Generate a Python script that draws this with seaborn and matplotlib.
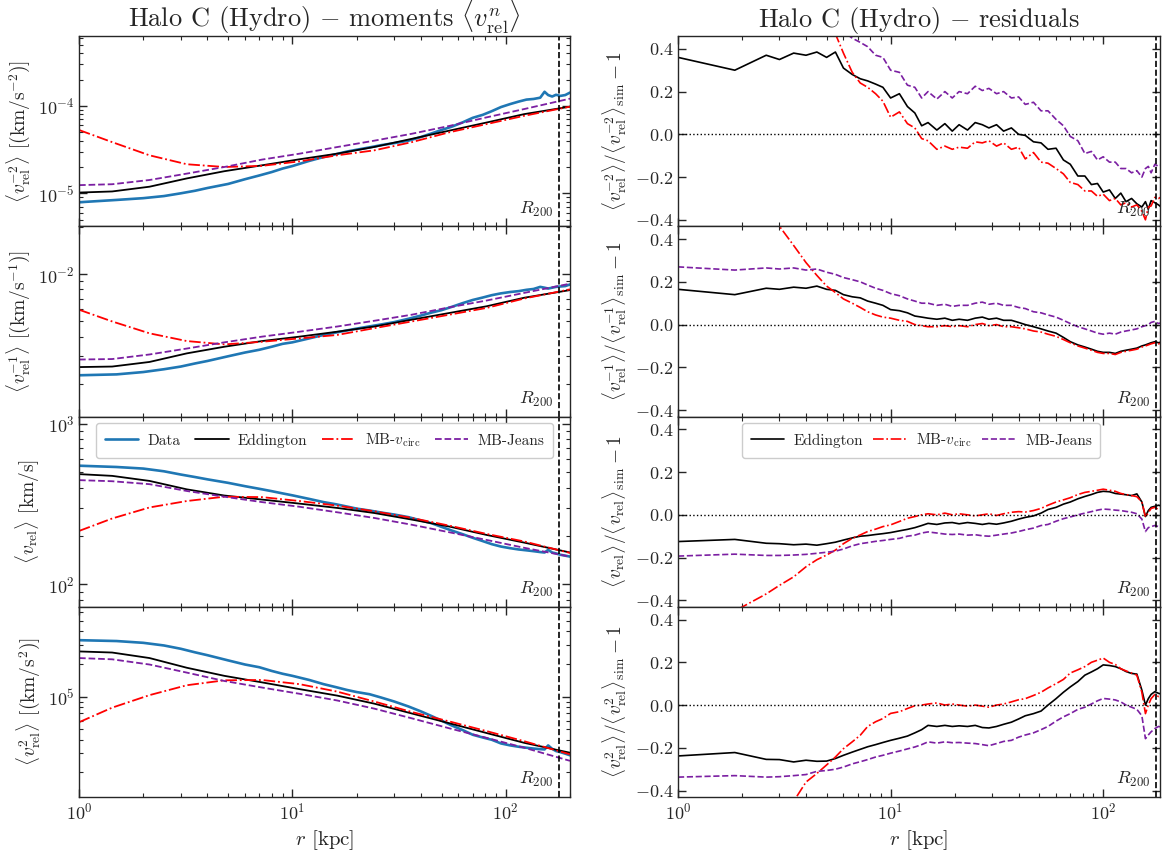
import matplotlib
matplotlib.use("Agg")
import matplotlib.pyplot as plt
import seaborn as sns
from matplotlib.ticker import LogLocator, NullFormatter, MultipleLocator

# ---------------- data ----------------
R200 = 177.0

# smooth model curves (left column)
r_mod = [1, 1.43, 2.14, 3.2, 4.8, 7.2, 10.8, 16.2, 24.2, 36.3, 54.4, 81.5, 122, 200]

edd_m2 = [1.02e-5, 1.05e-5, 1.19e-5, 1.48e-5, 1.79e-5, 2.09e-5, 2.45e-5, 2.84e-5, 3.39e-5, 4.2e-5, 5.21e-5, 6.46e-5, 8.05e-5, 9.8e-5]
vc_m2 = [5.3e-5, 3.85e-5, 2.72e-5, 2.15e-5, 2.0e-5, 2.06e-5, 2.32e-5, 2.72e-5, 3.1e-5, 3.85e-5, 4.99e-5, 6.2e-5, 7.7e-5, 9.8e-5]
jeans_m2 = [1.24e-5, 1.27e-5, 1.42e-5, 1.68e-5, 2.0e-5, 2.43e-5, 2.84e-5, 3.38e-5, 4.0e-5, 4.8e-5, 5.9e-5, 7.4e-5, 9.2e-5, 1.21e-4]

edd_m1 = [2.56e-3, 2.58e-3, 2.76e-3, 3.13e-3, 3.45e-3, 3.75e-3, 4.0e-3, 4.3e-3, 4.64e-3, 5.13e-3, 5.66e-3, 6.25e-3, 7.08e-3, 7.92e-3]
vc_m1 = [5.94e-3, 5.0e-3, 4.2e-3, 3.75e-3, 3.57e-3, 3.71e-3, 3.9e-3, 4.1e-3, 4.53e-3, 5.0e-3, 5.52e-3, 6.1e-3, 7.0e-3, 8.0e-3]
jeans_m1 = [2.86e-3, 2.88e-3, 3.08e-3, 3.36e-3, 3.68e-3, 4.0e-3, 4.3e-3, 4.64e-3, 5.05e-3, 5.52e-3, 6.15e-3, 6.8e-3, 7.6e-3, 8.7e-3]

edd_1 = [485, 473, 440, 390, 357, 337, 318, 299, 278, 253, 229, 203, 182, 158]
vc_1 = [215, 257, 301, 330, 351, 349, 330, 309, 285, 259, 232, 206, 185, 157]
jeans_1 = [445, 438, 420, 381, 351, 325, 304, 281, 259, 235, 211, 189, 169, 149]

edd_2 = [2.6e5, 2.54e5, 2.26e5, 1.84e5, 1.55e5, 1.35e5, 1.17e5, 1.02e5, 8.6e4, 6.98e4, 5.68e4, 4.61e4, 3.75e4, 3.04e4]
vc_2 = [5.8e4, 7.9e4, 1.03e5, 1.27e5, 1.41e5, 1.42e5, 1.3e5, 1.11e5, 9.0e4, 7.2e4, 5.9e4, 4.8e4, 3.88e4, 2.94e4]
jeans_2 = [2.26e5, 2.2e5, 1.97e5, 1.66e5, 1.39e5, 1.21e5, 1.06e5, 9.2e4, 7.74e4, 6.3e4, 5.1e4, 4.16e4, 3.38e4, 2.56e4]

# simulation data (blue)
r_data = [1, 1.5, 2, 2.5, 3, 3.5, 4, 5, 6, 7, 8, 9, 10, 12, 14, 16, 18, 20, 23, 26,
          30, 35, 40, 45, 50, 56, 63, 70, 78, 86, 95, 105, 115, 125, 135, 145, 152, 158, 165, 172,
          180, 190, 200]
data_m2 = [7.9e-6, 8.4e-6, 8.8e-6, 9.3e-6, 1.0e-5, 1.07e-5, 1.15e-5, 1.28e-5, 1.45e-5, 1.6e-5,
           1.75e-5, 1.92e-5, 2.05e-5, 2.35e-5, 2.6e-5, 2.8e-5, 3.0e-5, 3.15e-5, 3.35e-5, 3.55e-5,
           3.75e-5, 4.0e-5, 4.4e-5, 4.85e-5, 5.3e-5, 5.8e-5, 6.5e-5, 7.3e-5, 7.9e-5, 8.7e-5,
           9.7e-5, 1.05e-4, 1.12e-4, 1.18e-4, 1.2e-4, 1.24e-4, 1.45e-4, 1.33e-4, 1.28e-4, 1.34e-4,
           1.3e-4, 1.33e-4, 1.42e-4]
data_m1 = [2.27e-3, 2.3e-3, 2.38e-3, 2.48e-3, 2.58e-3, 2.7e-3, 2.8e-3, 3.0e-3, 3.17e-3, 3.3e-3,
           3.45e-3, 3.6e-3, 3.68e-3, 3.9e-3, 4.1e-3, 4.25e-3, 4.38e-3, 4.5e-3, 4.65e-3, 4.78e-3,
           4.95e-3, 5.2e-3, 5.45e-3, 5.7e-3, 5.9e-3, 6.2e-3, 6.55e-3, 6.85e-3, 7.1e-3, 7.35e-3,
           7.55e-3, 7.7e-3, 7.8e-3, 7.95e-3, 8.05e-3, 8.3e-3, 8.2e-3, 8.1e-3, 8.2e-3, 8.3e-3,
           8.35e-3, 8.4e-3, 8.6e-3]
data_1 = [547, 537, 525, 505, 482, 465, 450, 428, 408, 393,
          380, 368, 358, 340, 325, 315, 305, 296, 288, 280,
          272, 262, 250, 240, 228, 216, 205, 195, 186, 178,
          172, 168, 165, 163, 161, 159, 158, 164, 158, 156,
          153, 151, 149]
data_2 = [3.3e5, 3.24e5, 3.12e5, 2.95e5, 2.75e5, 2.55e5, 2.4e5, 2.15e5, 1.97e5, 1.86e5,
          1.72e5, 1.62e5, 1.55e5, 1.42e5, 1.3e5, 1.22e5, 1.15e5, 1.1e5, 1.05e5, 9.8e4,
          9.0e4, 8.1e4, 7.3e4, 6.6e4, 6.0e4, 5.4e4, 4.9e4, 4.45e4, 4.2e4, 4.0e4,
          3.7e4, 3.55e4, 3.45e4, 3.38e4, 3.32e4, 3.28e4, 3.26e4, 3.55e4, 3.3e4, 3.15e4,
          3.08e4, 2.98e4, 2.88e4]

# residuals (right column)
r_res = [1.0, 1.85, 2.6, 3.0, 3.5, 4.0, 4.5, 5.0, 5.5, 6.0,
         6.6, 7.2, 7.8, 8.5, 9.2, 10, 11, 12, 13, 14,
         15, 16.5, 18, 19.5, 21, 23, 25, 27, 29, 31.5,
         34, 37, 40, 43, 47, 51, 55, 60, 65, 70,
         76, 82, 88, 94, 100, 107, 114, 121, 128, 136,
         144, 152, 158, 163, 168, 175, 182, 190, 200]

res_edd_m2 = [0.36, 0.30, 0.37, 0.35, 0.38, 0.37, 0.385, 0.36, 0.385, 0.31,
              0.28, 0.26, 0.25, 0.235, 0.22, 0.17, 0.19, 0.13, 0.10, 0.04,
              0.055, 0.02, 0.05, 0.015, 0.045, 0.02, 0.055, 0.045, 0.03, 0.045,
              0.015, 0.03, 0.0, -0.005, -0.035, -0.04, -0.07, -0.065, -0.12, -0.14,
              -0.195, -0.195, -0.235, -0.23, -0.27, -0.26, -0.3, -0.275, -0.315, -0.3,
              -0.325, -0.34, -0.315, -0.35, -0.31, -0.32, -0.33, -0.345, -0.315]
res_vc_m2 = [6.0, 3.5, 2.2, 1.7, 1.3, 1.0, 0.75, 0.58, 0.47, 0.38,
             0.29, 0.24, 0.22, 0.19, 0.155, 0.08, 0.105, 0.05, 0.03, -0.02,
             -0.03, -0.07, -0.055, -0.07, -0.06, -0.065, -0.035, -0.04, -0.03, -0.055,
             -0.04, -0.07, -0.06, -0.115, -0.085, -0.13, -0.135, -0.16, -0.185, -0.225,
             -0.235, -0.265, -0.265, -0.29, -0.28, -0.31, -0.30, -0.33, -0.32, -0.34,
             -0.33, -0.36, -0.40, -0.34, -0.335, -0.295, -0.3, -0.29, -0.28]
res_jeans_m2 = [0.6, 0.55, 0.6, 0.58, 0.6, 0.6, 0.6, 0.58, 0.53, 0.48,
                0.45, 0.43, 0.41, 0.37, 0.36, 0.30, 0.29, 0.23, 0.22, 0.17,
                0.2, 0.165, 0.2, 0.17, 0.2, 0.19, 0.225, 0.205, 0.215, 0.19,
                0.2, 0.17, 0.175, 0.14, 0.15, 0.11, 0.11, 0.07, 0.04, -0.01,
                -0.03, -0.09, -0.08, -0.12, -0.105, -0.13, -0.13, -0.16, -0.16, -0.18,
                -0.17, -0.2, -0.16, -0.15, -0.18, -0.14, -0.15, -0.14, -0.13]

res_edd_m1 = [0.165, 0.14, 0.17, 0.165, 0.175, 0.17, 0.18, 0.165, 0.16, 0.14,
              0.13, 0.125, 0.11, 0.1, 0.09, 0.07, 0.065, 0.055, 0.04, 0.035,
              0.03, 0.025, 0.03, 0.02, 0.025, 0.02, 0.03, 0.035, 0.025, 0.03,
              0.02, 0.02, 0.01, 0.0, -0.01, -0.02, -0.03, -0.04, -0.06, -0.08,
              -0.095, -0.105, -0.115, -0.125, -0.13, -0.13, -0.135, -0.125, -0.12, -0.115,
              -0.11, -0.1, -0.095, -0.09, -0.085, -0.08, -0.085, -0.08, -0.075]
res_vc_m1 = [1.8, 1.0, 0.6, 0.46, 0.37, 0.29, 0.23, 0.18, 0.15, 0.12,
             0.1, 0.08, 0.06, 0.045, 0.035, 0.03, 0.02, 0.015, 0.0, -0.005,
             -0.01, -0.01, -0.005, -0.01, -0.005, -0.01, 0.0, 0.005, -0.005, 0.0,
             -0.01, -0.01, -0.015, -0.02, -0.03, -0.035, -0.045, -0.055, -0.07, -0.085,
             -0.1, -0.11, -0.12, -0.13, -0.135, -0.135, -0.14, -0.13, -0.125, -0.12,
             -0.115, -0.105, -0.1, -0.095, -0.09, -0.085, -0.09, -0.085, -0.08]
res_jeans_m1 = [0.27, 0.255, 0.265, 0.26, 0.265, 0.255, 0.26, 0.245, 0.235, 0.22,
                0.21, 0.2, 0.185, 0.17, 0.16, 0.145, 0.135, 0.12, 0.11, 0.1,
                0.1, 0.09, 0.095, 0.085, 0.09, 0.09, 0.1, 0.105, 0.095, 0.1,
                0.09, 0.09, 0.08, 0.075, 0.06, 0.055, 0.045, 0.035, 0.02, 0.005,
                -0.01, -0.02, -0.03, -0.04, -0.045, -0.04, -0.045, -0.035, -0.03, -0.025,
                -0.02, -0.01, -0.005, 0.0, 0.01, 0.015, 0.005, 0.01, 0.015]

res_edd_1 = [-0.125, -0.115, -0.133, -0.135, -0.14, -0.137, -0.142, -0.135, -0.128, -0.118,
             -0.108, -0.1, -0.097, -0.092, -0.088, -0.083, -0.075, -0.068, -0.06, -0.05,
             -0.04, -0.045, -0.038, -0.036, -0.042, -0.036, -0.04, -0.045, -0.04, -0.044,
             -0.038, -0.03, -0.02, -0.012, -0.005, 0.008, 0.025, 0.035, 0.05, 0.06,
             0.075, 0.086, 0.095, 0.105, 0.11, 0.108, 0.1, 0.097, 0.094, 0.09,
             0.098, 0.06, -0.008, 0.02, 0.035, 0.04, 0.045, 0.04, 0.035]
res_vc_1 = [-0.62, -0.45, -0.37, -0.33, -0.29, -0.243, -0.21, -0.188, -0.165, -0.135,
            -0.11, -0.094, -0.078, -0.067, -0.055, -0.047, -0.031, -0.016, -0.008, 0.0,
            0.005, 0.0, 0.008, 0.0, 0.005, 0.0, -0.005, 0.0, 0.005, -0.003,
            0.005, 0.012, 0.015, 0.013, 0.02, 0.03, 0.045, 0.06, 0.07, 0.08,
            0.095, 0.105, 0.11, 0.115, 0.12, 0.115, 0.11, 0.1, 0.095, 0.09,
            0.085, 0.06, -0.01, 0.01, 0.03, 0.035, 0.025, 0.03, 0.02]
res_jeans_1 = [-0.193, -0.184, -0.19, -0.19, -0.188, -0.185, -0.18, -0.175, -0.17, -0.16,
               -0.145, -0.135, -0.13, -0.124, -0.12, -0.115, -0.11, -0.1, -0.095, -0.085,
               -0.08, -0.085, -0.09, -0.092, -0.09, -0.095, -0.093, -0.098, -0.1, -0.095,
               -0.09, -0.085, -0.078, -0.07, -0.062, -0.05, -0.045, -0.03, -0.018, -0.01,
               0.0, 0.008, 0.015, 0.022, 0.027, 0.025, 0.022, 0.02, 0.016, 0.012,
               0.005, -0.02, -0.078, -0.06, -0.055, -0.05, -0.055, -0.05, -0.055]

res_edd_2 = [-0.238, -0.222, -0.254, -0.255, -0.266, -0.258, -0.263, -0.262, -0.25, -0.235,
             -0.22, -0.207, -0.195, -0.185, -0.175, -0.165, -0.155, -0.145, -0.13, -0.115,
             -0.095, -0.1, -0.095, -0.1, -0.097, -0.1, -0.095, -0.105, -0.107, -0.1,
             -0.09, -0.08, -0.065, -0.05, -0.04, -0.028, 0.0, 0.03, 0.06, 0.085,
             0.11, 0.14, 0.155, 0.17, 0.188, 0.185, 0.18, 0.17, 0.157, 0.148,
             0.145, 0.07, 0.0, 0.03, 0.05, 0.063, 0.055, 0.05, 0.045]
res_vc_2 = [-0.82, -0.68, -0.56, -0.5, -0.45, -0.36, -0.32, -0.28, -0.243, -0.204,
            -0.172, -0.141, -0.10, -0.078, -0.063, -0.039, -0.031, -0.016, -0.003, 0.0,
            0.005, 0.01, 0.0, 0.005, 0.0, -0.005, 0.0, -0.005, -0.01, 0.0,
            0.005, 0.015, 0.025, 0.03, 0.045, 0.06, 0.08, 0.1, 0.12, 0.15,
            0.165, 0.18, 0.2, 0.21, 0.22, 0.2, 0.19, 0.17, 0.16, 0.15,
            0.14, 0.06, -0.04, 0.0, 0.03, 0.05, 0.04, 0.05, 0.04]
res_jeans_2 = [-0.337, -0.33, -0.337, -0.335, -0.33, -0.325, -0.31, -0.306, -0.3, -0.29,
               -0.275, -0.265, -0.255, -0.243, -0.235, -0.225, -0.215, -0.205, -0.196, -0.185,
               -0.172, -0.178, -0.172, -0.176, -0.175, -0.178, -0.18, -0.185, -0.19, -0.18,
               -0.17, -0.165, -0.15, -0.14, -0.13, -0.115, -0.1, -0.075, -0.055, -0.04,
               -0.02, -0.01, 0.005, 0.02, 0.031, 0.028, 0.024, 0.015, 0.0, -0.01,
               -0.02, -0.05, -0.157, -0.14, -0.125, -0.11, -0.1, -0.105, -0.10]

# ---------------- style ----------------
sns.set_style("ticks")
plt.rcParams.update({
    "font.family": "cmr10",
    "mathtext.fontset": "cm",
    "axes.formatter.use_mathtext": True,
    "axes.linewidth": 1.0,
    "xtick.labelsize": 13,
    "ytick.labelsize": 13,
})

C_DATA = "#1f77b4"
C_EDD = "black"
C_VC = "red"
C_JEANS = "#7b1fa2"

left_rows = [
    (data_m2, edd_m2, vc_m2, jeans_m2, (4.2e-6, 6.3e-4),
     r"$\langle v_{\rm rel}^{-2}\rangle$ [(km/s$^{-2}$)]"),
    (data_m1, edd_m1, vc_m1, jeans_m1, (1.24e-3, 2.02e-2),
     r"$\langle v_{\rm rel}^{-1}\rangle$ [(km/s$^{-1}$)]"),
    (data_1, edd_1, vc_1, jeans_1, (72.7, 1106),
     r"$\langle v_{\rm rel}\rangle$ [km/s]"),
    (data_2, edd_2, vc_2, jeans_2, (1.19e4, 6.7e5),
     r"$\langle v_{\rm rel}^{2}\rangle$ [(km/s$^{2}$)]"),
]
right_rows = [
    (res_edd_m2, res_vc_m2, res_jeans_m2,
     r"$\langle v_{\rm rel}^{-2}\rangle / \langle v_{\rm rel}^{-2}\rangle_{\rm sim} - 1$"),
    (res_edd_m1, res_vc_m1, res_jeans_m1,
     r"$\langle v_{\rm rel}^{-1}\rangle / \langle v_{\rm rel}^{-1}\rangle_{\rm sim} - 1$"),
    (res_edd_1, res_vc_1, res_jeans_1,
     r"$\langle v_{\rm rel}\rangle / \langle v_{\rm rel}\rangle_{\rm sim} - 1$"),
    (res_edd_2, res_vc_2, res_jeans_2,
     r"$\langle v_{\rm rel}^{2}\rangle / \langle v_{\rm rel}^{2}\rangle_{\rm sim} - 1$"),
]

fig = plt.figure(figsize=(11.66, 8.52), dpi=100)
W, H = 1166.0, 852.0
top_px, row_px = 36.0, 190.25


def style_axis(ax, last):
    ax.set_xscale("log")
    ax.tick_params(which="both", direction="in", top=True, right=True)
    ax.tick_params(which="major", length=6, width=1)
    ax.tick_params(which="minor", length=3, width=0.8)
    ax.xaxis.set_minor_formatter(NullFormatter())
    if not last:
        ax.tick_params(labelbottom=False)
    else:
        ax.set_xlabel(r"$r$ [kpc]", fontsize=15)


leg_kw = dict(loc="upper left", mode="expand", fontsize=11, handlelength=2.2,
              handletextpad=0.6, columnspacing=1.0, framealpha=1, edgecolor="#cccccc",
              borderaxespad=0, borderpad=0.55)

ax_left0 = None
ax_right0 = None
for i in range(4):
    y0 = 1 - (top_px + (i + 1) * row_px) / H
    h = row_px / H
    last = i == 3

    # ---- left: moments ----
    ax = fig.add_axes([79 / W, y0, 491 / W, h], sharex=ax_left0)
    ax_left0 = ax_left0 or ax
    data, edd, vc, jeans, ylim, ylab = left_rows[i]
    ax.set_yscale("log")
    sns.lineplot(x=r_data, y=data, ax=ax, color=C_DATA, lw=1.9, label="Data", legend=False)
    sns.lineplot(x=r_mod, y=edd, ax=ax, color=C_EDD, lw=1.3, label="Eddington", legend=False)
    sns.lineplot(x=r_mod, y=vc, ax=ax, color=C_VC, lw=1.3, linestyle="-.",
                 label=r"MB-$v_{\rm circ}$", legend=False)
    sns.lineplot(x=r_mod, y=jeans, ax=ax, color=C_JEANS, lw=1.3, linestyle="--",
                 label="MB-Jeans", legend=False)
    ax.axvline(R200, color="black", ls="--", lw=1.2)
    ax.set_xlim(1, 200)
    ax.set_ylim(*ylim)
    ax.yaxis.set_minor_locator(LogLocator(base=10, subs=range(2, 10), numticks=20))
    ax.yaxis.set_minor_formatter(NullFormatter())
    ax.set_ylabel(ylab, fontsize=14)
    ax.text(0.965, 0.04, r"$R_{200}$", transform=ax.transAxes, ha="right", va="bottom", fontsize=13)
    style_axis(ax, last)
    if i == 0:
        ax.set_title(r"Halo C (Hydro) $-$ moments $\langle v_{\rm rel}^{n}\rangle$", fontsize=19, pad=6)
    if i == 2:
        ax.legend(bbox_to_anchor=(0.035, 0.965, 0.93, 0), ncol=4, **leg_kw)

    # ---- right: residuals ----
    axr = fig.add_axes([678 / W, y0, 482 / W, h], sharex=ax_right0)
    ax_right0 = ax_right0 or axr
    redd, rvc, rjeans, rlab = right_rows[i]
    sns.lineplot(x=r_res, y=redd, ax=axr, color=C_EDD, lw=1.2, label="Eddington", legend=False)
    sns.lineplot(x=r_res, y=rvc, ax=axr, color=C_VC, lw=1.2, linestyle="-.",
                 label=r"MB-$v_{\rm circ}$", legend=False)
    sns.lineplot(x=r_res, y=rjeans, ax=axr, color=C_JEANS, lw=1.2, linestyle="--",
                 label="MB-Jeans", legend=False)
    axr.axhline(0, color="black", ls=":", lw=1.0)
    axr.axvline(R200, color="black", ls="--", lw=1.2)
    axr.set_xlim(1, 185)
    axr.set_ylim(-0.43, 0.46)
    axr.yaxis.set_major_locator(MultipleLocator(0.2))
    axr.set_ylabel(rlab, fontsize=14)
    axr.text(0.979, 0.04, r"$R_{200}$", transform=axr.transAxes, ha="right", va="bottom", fontsize=13)
    style_axis(axr, last)
    if i == 0:
        axr.set_title(r"Halo C (Hydro) $-$ residuals", fontsize=19, pad=6)
    if i == 2:
        axr.legend(bbox_to_anchor=(0.133, 0.965, 0.743, 0), ncol=3, **leg_kw)

fig.savefig("out.png", dpi=100)
